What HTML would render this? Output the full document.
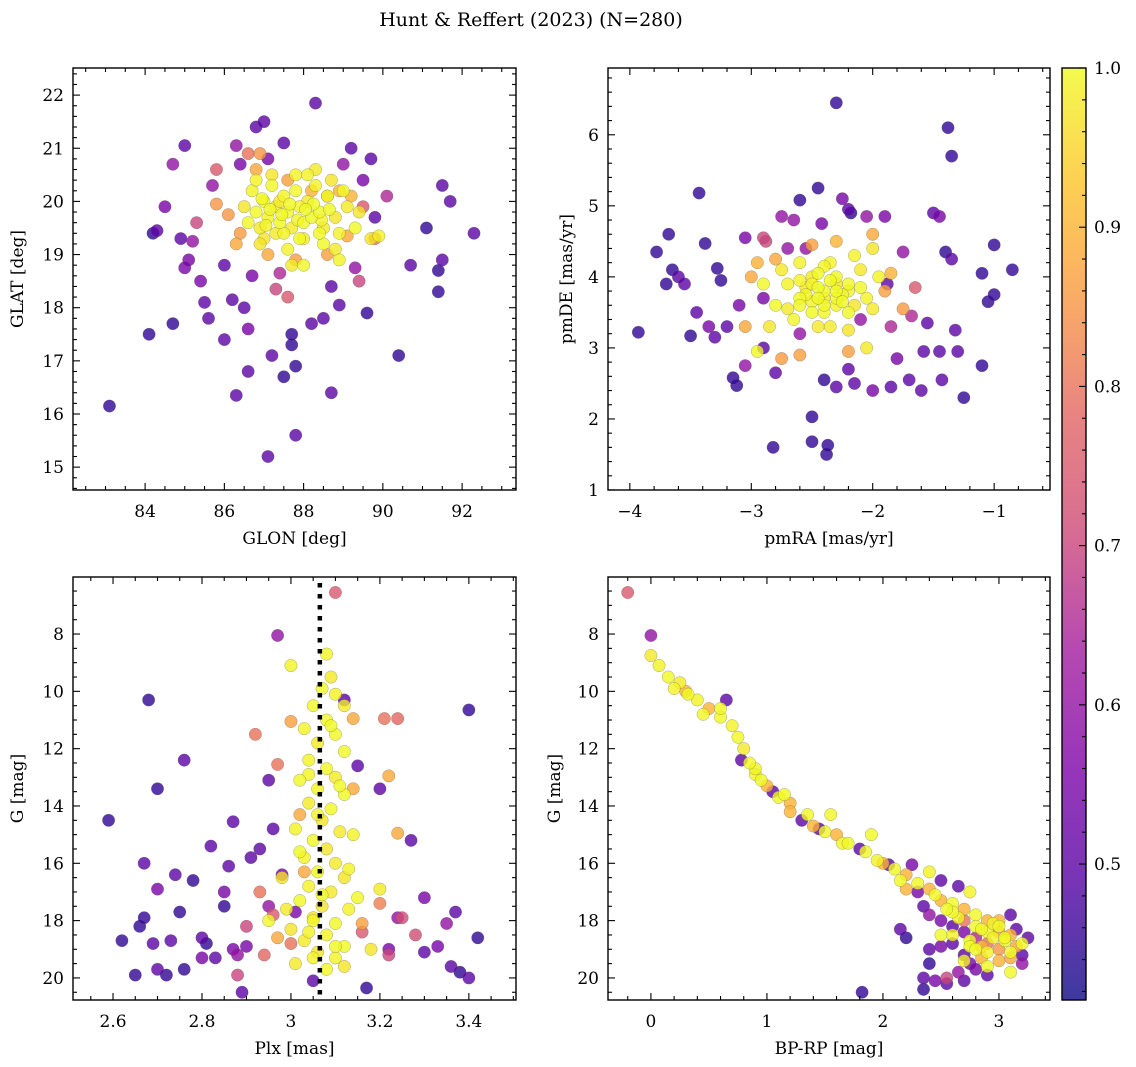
<!DOCTYPE html>
<html><head><meta charset="utf-8"><style>
body{margin:0;background:#fff}
svg{display:block;font-family:"DejaVu Serif","Liberation Serif",serif}
</style></head><body>
<svg id="fig" width="1136" height="1067" viewBox="0 0 1136 1067">
<text x="531" y="26" font-size="19" text-anchor="middle">Hunt &amp; Reffert (2023) (N=280)</text>
</svg>
<script>
// ---- data (x, y, membership probability) ----
const p1Lon=[83.1,84.1,84.7,84.2,84.3,84.5,84.7,85.0,84.9,85.1,85.0,85.2,85.4,85.5,85.6,85.3,85.7,85.8,86.0,86.0,86.2,86.3,86.4,86.3,86.6,86.5,86.6,86.7,86.8,87.0,87.1,87.2,87.1,87.3,87.4,87.6,87.7,87.7,87.8,87.5,87.8,87.5,88.2,88.3,88.5,88.7,88.7,88.9,89.0,89.2,89.4,89.3,89.5,89.7,89.8,89.6,90.1,90.4,90.7,91.1,91.4,91.4,91.5,91.7,91.5,92.3,89.8,89.5,85.8,86.1,86.6,
86.7,86.8,86.9,87.0,87.1,87.2,87.3,87.4,87.5,87.6,87.7,87.8,87.9,88.0,88.1,88.2,88.3,88.4,88.5,88.6,88.8,88.9,89.1,89.3,87.0,87.5,88.0,88.5,87.2,87.8,88.3,86.6,86.9,87.6,88.8,89.0,89.4,86.8,87.3,87.9,88.7,88.1,87.4,88.4,86.5,88.9,87.7,88.0,89.7,89.9,
86.8,87.6,88.2,87.1,88.6,89.2,86.4,86.3,87.8,86.9,88.9,89.1,88.6,
87.15,87.45,87.85,88.25,88.65,87.05,87.65,88.05,88.45,86.95];
const p1Lat=[16.15,17.5,17.7,19.4,19.45,19.9,20.7,21.05,19.3,18.9,18.75,19.25,18.5,18.1,17.8,19.6,20.3,20.6,18.8,17.4,18.15,16.35,20.7,21.05,17.6,18.0,16.8,18.6,21.4,21.5,20.8,17.1,15.2,18.35,18.65,18.2,17.3,17.5,16.9,16.7,15.6,21.1,17.7,21.85,17.8,18.4,16.4,18.05,20.7,21.0,18.5,18.75,20.4,20.8,19.7,17.9,20.1,17.1,18.8,19.5,18.7,18.3,20.3,20.0,18.9,19.4,19.3,19.9,19.95,19.75,20.9,
20.2,19.8,19.5,20.0,19.7,20.3,19.9,19.6,20.1,19.8,19.5,20.2,19.9,19.6,20.0,19.7,20.3,19.8,19.5,20.1,19.7,19.4,19.9,19.5,19.3,19.4,19.3,19.2,20.5,20.5,20.6,19.6,19.2,19.1,19.1,20.2,19.8,20.4,19.4,19.3,20.4,20.5,20.0,19.4,19.9,18.9,18.8,18.8,19.3,19.35,
20.6,20.4,20.2,19.0,19.0,20.1,19.4,19.2,18.9,20.9,20.2,19.35,20.1,
19.85,19.75,19.65,19.95,19.85,19.55,19.95,19.85,19.65,20.05];
const p1Prob=[.45,.45,.45,.45,.5,.55,.6,.5,.5,.55,.55,.6,.55,.5,.5,.7,.6,.75,.5,.5,.5,.5,.55,.6,.55,.5,.5,.55,.5,.5,.55,.5,.5,.7,.65,.75,.45,.45,.45,.45,.5,.5,.5,.5,.5,.5,.5,.5,.6,.5,.7,.6,.55,.5,.5,.45,.65,.45,.5,.45,.45,.45,.5,.5,.5,.5,.8,.75,.85,.85,.8,
.99,1,.98,1,.99,1,.98,1,.99,1,.98,1,.99,1,.98,1,.99,1,.98,1,.97,.99,.98,1,.97,.99,.98,1,.97,.99,.98,1,.97,.99,.98,1,.97,.99,.98,1,.97,.99,.98,1,.97,.99,.98,1,.97,.99,
.88,.87,.9,.88,.87,.9,.86,.88,.87,.85,.9,.88,.9,
1,1,.99,1,1,.99,1,1,.99,1];

const p2RA=[-3.93,-3.78,-3.68,-3.65,-3.7,-3.6,-3.55,-3.5,-3.45,-3.43,-3.38,-3.35,-3.3,-3.28,-3.25,-3.2,-3.15,-3.12,-3.1,-3.05,-3.05,-2.9,-2.88,-2.82,-2.8,-2.75,-2.65,-2.6,-2.55,-2.5,-2.5,-2.45,-2.42,-2.4,-2.38,-2.37,-2.3,-2.3,-2.25,-2.2,-2.18,-2.2,-2.15,-2.05,-2.0,-1.9,-1.88,-1.85,-1.8,-1.75,-1.7,-1.68,-1.6,-1.58,-1.55,-1.45,-1.43,-1.4,-1.38,-1.35,-1.35,-1.32,-1.3,-1.25,-1.45,-1.5,-1.1,-1.1,-1.05,-1.0,-1.0,-0.85,-2.9,-2.9,-2.7,-1.85,-1.65,-2.6,-2.1,
-2.7,-2.6,-2.5,-2.4,-2.3,-2.2,-2.1,-2.5,-2.35,-2.65,-2.45,-2.2,-2.05,-2.8,-2.75,-2.3,-2.15,-2.4,-2.55,-2.25,-2.0,-1.95,-2.05,-2.9,-2.85,-2.6,-2.35,-2.45,-2.15,-2.5,-2.7,-2.1,-2.3,-2.4,-2.0,-2.95,-2.2,-2.6,-2.4,-2.3,
-2.8,-2.5,-2.3,-2.0,-2.6,-2.75,-3.05,-1.9,-1.85,-3.0,-2.95,-2.2,-1.75,
-2.45,-2.35,-2.55,-2.25,-2.4,-2.5,-2.3,-2.6,-2.2,-2.45];
const p2DE=[3.22,4.35,4.6,4.1,3.9,4.0,3.9,3.17,3.5,5.18,4.47,3.3,3.15,4.12,3.95,3.3,2.58,2.47,3.6,2.75,4.55,3.0,4.5,1.6,2.65,4.85,4.8,5.08,4.4,2.03,1.68,5.25,4.75,2.55,1.5,1.63,6.45,2.45,5.1,4.95,4.9,2.7,2.5,4.85,2.4,4.85,3.9,2.45,2.85,4.35,2.55,3.45,2.4,2.95,3.35,2.95,2.55,4.35,6.1,5.7,4.25,3.25,2.95,2.3,4.85,4.9,4.05,2.75,3.65,3.75,4.45,4.1,3.7,4.55,4.4,3.3,3.85,3.2,3.4,
3.9,3.7,4.0,3.8,3.6,3.9,4.1,3.5,4.2,3.4,3.3,3.5,3.7,3.6,4.1,4.0,4.3,3.5,3.85,3.75,4.4,4.0,3.0,3.9,3.3,4.2,3.3,4.05,3.6,3.65,3.55,3.85,3.9,4.15,3.55,2.95,3.25,3.95,3.7,3.7,
4.25,4.45,4.5,4.6,2.9,2.85,3.3,3.8,4.05,4.0,4.2,2.95,3.55,
3.85,3.95,3.75,3.65,3.6,3.9,3.8,3.6,3.8,3.7];
const p2Prob=[.45,.45,.45,.45,.45,.5,.5,.45,.5,.45,.45,.55,.5,.45,.45,.5,.45,.45,.55,.6,.55,.5,.7,.45,.5,.6,.6,.45,.6,.45,.45,.45,.55,.45,.45,.45,.45,.5,.55,.5,.45,.5,.5,.6,.55,.55,.5,.5,.55,.6,.5,.65,.5,.5,.5,.5,.5,.45,.45,.45,.5,.5,.5,.45,.55,.5,.45,.45,.45,.45,.45,.45,.55,.7,.6,.65,.75,.6,.6,
.99,1,.98,1,.99,1,.98,1,.99,1,.98,1,.99,1,.98,1,.99,1,.98,1,.97,.99,.98,1,.97,.99,.98,1,.97,.99,.98,1,.97,.99,.98,1,.97,.99,.98,1,
.88,.87,.9,.88,.87,.86,.88,.87,.9,.88,.9,.87,.86,
1,1,.99,1,1,.99,1,1,.99,1];

const p3Plx=[3.0,3.08,3.09,3.07,3.1,3.05,3.12,3.08,3.03,3.1,3.06,3.12,3.04,3.08,3.1,3.02,3.06,3.12,3.04,3.09,3.07,3.01,3.11,3.05,3.08,3.03,3.1,3.06,3.12,3.04,3.09,3.02,3.07,3.13,3.05,3.1,3.0,3.08,3.03,3.12,3.06,3.1,3.01,3.08,3.12,3.05,2.99,3.15,2.98,3.14,3.2,2.95,3.18,
3.0,3.14,3.21,3.24,3.22,2.97,3.02,2.93,2.96,3.0,3.16,3.2,2.9,3.25,2.94,3.22,3.24,3.14,2.88,3.28,3.1,2.97,2.92,3.03,
2.59,2.62,2.65,2.66,2.67,2.67,2.68,2.69,2.7,2.7,2.72,2.73,2.75,2.76,2.76,2.78,2.8,2.8,2.81,2.82,2.83,2.85,2.86,2.87,2.87,2.88,2.89,2.9,2.91,2.93,2.95,2.96,2.98,3.01,3.05,3.12,3.15,3.17,3.2,3.22,3.27,3.3,3.3,3.33,3.36,3.37,3.38,3.4,3.42,3.4,3.35,2.74,2.85,3.24,2.7,2.95,
3.09,3.04,3.11,3.06,3.02,3.13,3.07,3.04,3.1,3.05,2.97,3.16];
const p3G=[9.1,8.7,9.5,9.9,10.1,10.5,10.5,11.0,11.3,11.5,11.8,12.1,12.4,12.7,13.0,13.1,13.4,13.6,13.9,14.1,14.5,14.8,14.9,15.2,15.5,15.8,16.0,16.3,16.5,16.8,17.0,17.3,17.5,17.6,17.9,18.1,18.3,18.5,18.7,18.9,19.1,19.3,19.5,19.7,19.6,18.0,17.6,17.2,16.5,15.0,16.9,18.0,19.0,
11.05,10.95,10.95,10.95,12.95,12.55,14.3,17.0,17.8,18.8,18.4,17.4,18.2,17.9,19.2,19.2,14.95,13.4,19.9,18.5,6.55,8.05,11.5,16.3,
14.5,18.7,19.9,18.2,17.9,16.0,10.3,18.8,13.4,19.7,19.9,18.7,17.7,12.4,19.7,16.6,18.6,19.3,18.8,15.4,19.3,17.5,16.1,14.55,19.0,19.2,20.5,18.9,15.8,15.5,13.1,14.8,16.4,17.7,20.1,10.3,12.6,20.35,13.4,19.0,15.2,17.2,19.1,18.9,19.6,17.7,19.8,10.65,18.6,20.0,18.1,16.4,17.0,17.9,16.9,17.5,
11.2,12.9,13.3,14.3,15.6,16.2,17.1,18.4,18.9,19.3,18.6,18.1];
const p3Prob=[.99,1,.98,1,.99,1,.98,1,.99,1,.98,1,.99,1,.98,1,.99,1,.98,1,.97,.99,.98,1,.97,.99,.98,1,.97,.99,.98,1,.97,.99,.98,1,.97,.99,.98,1,.97,.99,.98,1,.97,.99,.98,1,.97,.99,.98,1,.97,
.87,.88,.8,.78,.88,.8,.88,.8,.75,.8,.75,.82,.7,.72,.78,.7,.88,.88,.7,.72,.75,.6,.8,.88,
.45,.45,.45,.45,.45,.5,.45,.5,.45,.5,.45,.5,.45,.5,.45,.45,.5,.55,.45,.5,.5,.45,.5,.5,.55,.6,.5,.55,.5,.5,.5,.5,.55,.55,.5,.5,.5,.45,.5,.55,.5,.55,.5,.55,.5,.5,.45,.45,.45,.5,.6,.5,.55,.6,.55,.6,
1,.99,1,.99,1,.99,1,.99,1,.99,.88,.87];

const p4Col=[-0.2,0.0,0.0,0.07,0.15,0.25,0.32,0.4,0.5,0.6,0.65,0.7,0.75,0.8,0.78,0.85,0.9,0.95,1.0,1.05,1.1,1.2,1.3,1.35,1.4,1.5,1.55,1.6,1.7,1.8,1.85,1.9,1.95,2.0,2.05,2.1,2.2,2.25,2.3,2.4,2.4,2.45,2.5,2.6,2.7,2.75,2.8,2.9,3.0,3.1,3.2,2.3,2.35,2.4,2.5,2.6,2.7,2.8,2.9,3.0,2.6,2.7,2.75,2.85,2.9,3.0,3.1,3.2,3.25,2.65,2.55,2.45,2.35,2.4,2.35,2.55,2.7,1.82,2.15,2.2,2.5,2.6,2.8,2.9,3.0,3.05,2.95,2.85,2.7,2.75,3.15,3.1,2.6,3.2,2.9,3.1,2.8,2.65,2.5,2.2,2.4,2.5,0.6,0.3,1.2,1.45,
2.55,2.65,2.85,2.95,3.05,3.15,2.75,2.9,3.0,2.8,2.7,3.1,0.2,0.45,0.9,1.15,1.65,2.15];
const p4G=[6.55,8.05,8.75,9.1,9.5,9.7,10.1,10.3,10.6,10.9,10.3,11.2,11.6,12.0,12.4,12.5,12.9,13.1,13.3,13.5,13.7,13.9,14.5,14.3,14.7,14.9,14.3,15.0,15.3,15.5,15.6,15.0,15.9,16.0,16.05,16.2,16.4,16.05,16.7,16.3,16.9,17.1,17.3,17.4,17.6,17.0,17.8,18.0,18.2,18.5,18.8,17.0,17.5,17.8,18.0,18.2,18.4,18.6,18.8,19.0,18.8,19.2,19.5,19.3,19.6,19.4,19.1,19.2,18.6,19.8,20.0,20.1,20.0,19.5,20.4,20.2,20.1,20.5,18.3,18.6,18.5,18.5,18.2,18.4,18.0,18.7,18.6,18.9,18.0,18.7,18.3,17.8,17.7,19.5,19.9,19.8,19.7,16.8,16.6,16.9,19.0,18.9,10.6,10.0,14.2,14.8,
17.6,17.9,18.3,18.1,18.6,18.9,18.9,19.1,18.4,19.0,19.4,19.3,9.9,10.8,12.7,13.6,15.3,16.6];
const p4Prob=[.75,.6,.98,.99,1,.98,1,.99,.9,1,.5,.99,1,.98,.5,1,.99,1,.9,.5,1,.9,.5,1,.9,1,1,.9,1,.5,1,1,.99,.9,.5,1,.9,.55,1,.99,.9,1,.9,1,.9,.99,1,.9,1,.9,1,.55,.5,.6,.55,.5,.55,.65,.8,.85,.5,.5,.55,.9,1,.9,1,.5,.5,.6,.7,.55,.5,.45,.45,.5,.5,.45,.5,.45,1,.99,1,.99,.9,1,.99,.9,.8,1,.5,.5,1,.6,.5,1,.55,.5,.5,.9,.5,.55,1,.9,.9,.5,
1,.99,1,.99,1,.88,1,.99,.87,1,.99,.88,.99,1,.99,1,.99,1];

const xTicks1=[84,86,88,90,92], yTicks1=[15,16,17,18,19,20,21,22];
const xTicks2=[-4,-3,-2,-1], yTicks2=[1,2,3,4,5,6];
const xTicks3=[2.6,2.8,3.0,3.2,3.4], yTicksG=[8,10,12,14,16,18,20];
const xTicks4=[0,1,2,3];
const cbTicks=[0.5,0.6,0.7,0.8,0.9,1.0];
const plxLine=3.065;
const pMin=0.4146, pMax=1.0;

// ---- rendering ----
const NS="http://www.w3.org/2000/svg";
const svg=document.getElementById('fig');
function el(tag,attrs,parent){const e=document.createElementNS(NS,tag);for(const k in attrs)e.setAttribute(k,attrs[k]);(parent||svg).appendChild(e);return e;}
const plasma=[[13,8,135],[84,2,163],[126,3,168],[163,27,157],[204,71,120],[225,100,98],[248,149,64],[253,195,40],[240,249,33]];
function cmap(t){t=Math.max(0,Math.min(1,t));const f=t*(plasma.length-1),i=Math.min(plasma.length-2,Math.floor(f)),r=f-i;const a=plasma[i],b=plasma[i+1];return `rgb(${Math.round(a[0]+(b[0]-a[0])*r)},${Math.round(a[1]+(b[1]-a[1])*r)},${Math.round(a[2]+(b[2]-a[2])*r)})`;}
function fmt(v){return Math.abs(v-Math.round(v))<1e-9?String(Math.round(v)).replace('-','\u2212'):v.toFixed(1).replace('-','\u2212');}

function panel(o){
  const g=el('g',{});
  
  
  const sx=v=>o.x0+(v-o.xmin)/(o.xmax-o.xmin)*(o.x1-o.x0);
  const sy=o.invert? (v=>o.y0+(v-o.ymin)/(o.ymax-o.ymin)*(o.y1-o.y0)) : (v=>o.y1-(v-o.ymin)/(o.ymax-o.ymin)*(o.y1-o.y0));
  const cid='clip'+o.name;
  const cp=el('clipPath',{id:cid},g);el('rect',{x:o.x0,y:o.y0,width:o.x1-o.x0,height:o.y1-o.y0},cp);
  const pts=el('g',{'clip-path':`url(#${cid})`},g);
  
  
  const idx=o.xs.map((_,i)=>i).sort((a,b)=>o.ps[a]-o.ps[b]);
  idx.forEach(i=>{
    const c=el('circle',{cx:sx(o.xs[i]),cy:sy(o.ys[i]),r:6.2,fill:cmap((o.ps[i]-pMin)/(pMax-pMin)),'fill-opacity':0.8,stroke:'#555','stroke-opacity':0.5,'stroke-width':0.5},pts);
    
    
  });
  if(o.vline!==undefined){
    const l=el('line',{x1:sx(o.vline),x2:sx(o.vline),y1:o.y0+6,y2:o.y1,stroke:'#000','stroke-width':4.5,'stroke-dasharray':'4.5 6.5'},g);
    
    
  }
  el('rect',{x:o.x0,y:o.y0,width:o.x1-o.x0,height:o.y1-o.y0,fill:'none',stroke:'#000','stroke-width':1.4},g);
  const tk=el('g',{stroke:'#000','stroke-width':1.1},g);
  for(let v=Math.ceil(o.xmin/o.xminor)*o.xminor;v<=o.xmax;v+=o.xminor){const X=sx(v);const maj=o.xt.some(t=>Math.abs(t-v)<1e-6);const L=maj?7:4;el('line',{x1:X,x2:X,y1:o.y1,y2:o.y1-L},tk);el('line',{x1:X,x2:X,y1:o.y0,y2:o.y0+L},tk);}
  for(let v=Math.ceil(o.ymin/o.yminor)*o.yminor;v<=o.ymax;v+=o.yminor){const Y=sy(v);const maj=o.yt.some(t=>Math.abs(t-v)<1e-6);const L=maj?7:4;el('line',{y1:Y,y2:Y,x1:o.x0,x2:o.x0+L},tk);el('line',{y1:Y,y2:Y,x1:o.x1,x2:o.x1-L},tk);}
  o.xt.forEach(t=>{const e=el('text',{x:sx(t),y:o.y1+27,'font-size':17,'text-anchor':'middle'},g);e.textContent=fmt(t);});
  o.yt.forEach(t=>{const e=el('text',{x:o.x0-9,y:sy(t)+6,'font-size':17,'text-anchor':'end'},g);e.textContent=fmt(t);});
  const xl=el('text',{x:(o.x0+o.x1)/2,y:o.y1+54,'font-size':17,'text-anchor':'middle'},g);xl.textContent=o.xlabel;
  
  const yx=o.ylx,yy=(o.y0+o.y1)/2;
  const yl=el('text',{x:yx,y:yy,'font-size':17,'text-anchor':'middle',transform:`rotate(-90 ${yx} ${yy})`},g);yl.textContent=o.ylabel;
  
}

panel({name:'glon-glat-panel',x0:73,x1:516,y0:68,y1:490,xmin:82.18,xmax:93.36,ymin:14.57,ymax:22.51,xt:xTicks1,yt:yTicks1,xminor:0.5,yminor:0.2,xs:p1Lon,ys:p1Lat,ps:p1Prob,xlabel:'GLON [deg]',ylabel:'GLAT [deg]',ylx:23});
panel({name:'proper-motion-panel',x0:608,x1:1050,y0:68,y1:490,xmin:-4.18,xmax:-0.54,ymin:1,ymax:6.94,xt:xTicks2,yt:yTicks2,xminor:0.2,yminor:0.2,xs:p2RA,ys:p2DE,ps:p2Prob,xlabel:'pmRA [mas/yr]',ylabel:'pmDE [mas/yr]',ylx:572});
panel({name:'parallax-mag-panel',x0:73,x1:516,y0:577,y1:1000,xmin:2.51,xmax:3.506,ymin:6.01,ymax:20.77,invert:true,xt:xTicks3,yt:yTicksG,xminor:0.05,yminor:0.5,xs:p3Plx,ys:p3G,ps:p3Prob,xlabel:'Plx [mas]',ylabel:'G [mag]',ylx:23,vline:plxLine});
panel({name:'cmd-panel',x0:608,x1:1050,y0:577,y1:1000,xmin:-0.37,xmax:3.44,ymin:6.01,ymax:20.77,invert:true,xt:xTicks4,yt:yTicksG,xminor:0.2,yminor:0.5,xs:p4Col,ys:p4G,ps:p4Prob,xlabel:'BP-RP [mag]',ylabel:'G [mag]',ylx:560});

// colorbar
const cb=el('g',{});


const cx0=1062,cx1=1086,cy0=68,cy1=1000;
const gr=el('linearGradient',{id:'cbg',x1:0,y1:1,x2:0,y2:0},cb);
for(let i=0;i<=16;i++){el('stop',{offset:i/16,'stop-color':cmap(i/16),'stop-opacity':0.8},gr);}
el('rect',{x:cx0,y:cy0,width:cx1-cx0,height:cy1-cy0,fill:'url(#cbg)',stroke:'#000','stroke-width':1.4},cb);
const cy=v=>cy1-(v-pMin)/(pMax-pMin)*(cy1-cy0);
for(let v=0.42;v<=1.0001;v+=0.02){const maj=cbTicks.some(t=>Math.abs(t-v)<1e-6);el('line',{x1:cx1,x2:cx1-(maj?7:4),y1:cy(v),y2:cy(v),stroke:'#000','stroke-width':1.1},cb);}
cbTicks.forEach(t=>{const e=el('text',{x:cx1+8,y:cy(t)+6,'font-size':17},cb);e.textContent=t.toFixed(1);});
</script>
</body></html>
